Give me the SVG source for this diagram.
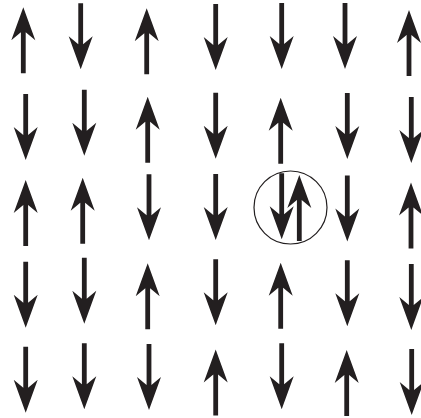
<svg xmlns="http://www.w3.org/2000/svg" xmlns:xlink="http://www.w3.org/1999/xlink" width="421" height="418" viewBox="0 0 421 418">
<style>
.a{fill:#231f20}
.ring{fill:none;stroke:#231f20;stroke-width:1.2}
</style>
<defs>
<path id="up" class="a" d="M0,0 L12,33 L2.4,25 L2.4,66 L-2.4,66 L-2.4,25 L-12,33 Z"/>
<path id="dn" class="a" d="M0,66 L12,33 L2.4,41 L2.4,0 L-2.4,0 L-2.4,41 L-12,33 Z"/>
</defs>
<rect width="421" height="418" fill="#fff"/>
<g id="row1">
<g id="s11"><use xlink:href="#up" transform="translate(23.3,7.3)"/></g>
<g id="s12"><use xlink:href="#dn" transform="translate(80.7,3.3)"/></g>
<g id="s13"><use xlink:href="#up" transform="translate(146.7,8.3)"/></g>
<g id="s14"><use xlink:href="#dn" transform="translate(215.7,4)"/></g>
<g id="s15"><use xlink:href="#dn" transform="translate(281.7,3)"/></g>
<g id="s16"><use xlink:href="#dn" transform="translate(345,3)"/></g>
<g id="s17"><use xlink:href="#up" transform="translate(409,10)"/></g>
</g>
<g id="row2">
<g id="s21"><use xlink:href="#dn" transform="translate(25.7,94)"/></g>
<g id="s22"><use xlink:href="#dn" transform="translate(84.3,89.7)"/></g>
<g id="s23"><use xlink:href="#up" transform="translate(147.7,96.7)"/></g>
<g id="s24"><use xlink:href="#dn" transform="translate(215.7,92.7)"/></g>
<g id="s25"><use xlink:href="#up" transform="translate(280.7,97.7)"/></g>
<g id="s26"><use xlink:href="#dn" transform="translate(347.3,93)"/></g>
<g id="s27"><use xlink:href="#dn" transform="translate(411.3,97)"/></g>
</g>
<g id="row3">
<g id="s31"><use xlink:href="#up" transform="translate(25.7,180)"/></g>
<g id="s32"><use xlink:href="#up" transform="translate(82.7,177.7)"/></g>
<g id="s33"><use xlink:href="#dn" transform="translate(149,174.3)"/></g>
<g id="s34"><use xlink:href="#dn" transform="translate(215.7,174)"/></g>
<g id="s35">
<circle class="ring" cx="290.5" cy="207.5" r="36.5"/>
<use xlink:href="#dn" transform="translate(281.7,173.3)"/>
<use xlink:href="#up" transform="translate(299.3,175)"/>
</g>
<g id="s36"><use xlink:href="#dn" transform="translate(347.3,175.5)"/></g>
<g id="s37"><use xlink:href="#up" transform="translate(411,182.5)"/></g>
</g>
<g id="row4">
<g id="s41"><use xlink:href="#dn" transform="translate(25.7,261.7)"/></g>
<g id="s42"><use xlink:href="#dn" transform="translate(84.3,257.7)"/></g>
<g id="s43"><use xlink:href="#up" transform="translate(147.7,263.3)"/></g>
<g id="s44"><use xlink:href="#dn" transform="translate(215.7,259.3)"/></g>
<g id="s45"><use xlink:href="#up" transform="translate(280.7,262.7)"/></g>
<g id="s46"><use xlink:href="#dn" transform="translate(347.3,260.3)"/></g>
<g id="s47"><use xlink:href="#dn" transform="translate(411.3,264)"/></g>
</g>
<g id="row5">
<g id="s51"><use xlink:href="#dn" transform="translate(25.7,346.7)"/></g>
<g id="s52"><use xlink:href="#dn" transform="translate(84.3,343.3)"/></g>
<g id="s53"><use xlink:href="#dn" transform="translate(149,344)"/></g>
<g id="s54"><use xlink:href="#up" transform="translate(215.7,349.5)"/></g>
<g id="s55"><use xlink:href="#dn" transform="translate(281.7,343.3)"/></g>
<g id="s56"><use xlink:href="#up" transform="translate(346.7,350)"/></g>
<g id="s57"><use xlink:href="#dn" transform="translate(411.7,349)"/></g>
</g>
<g id="connectors"/>
</svg>
